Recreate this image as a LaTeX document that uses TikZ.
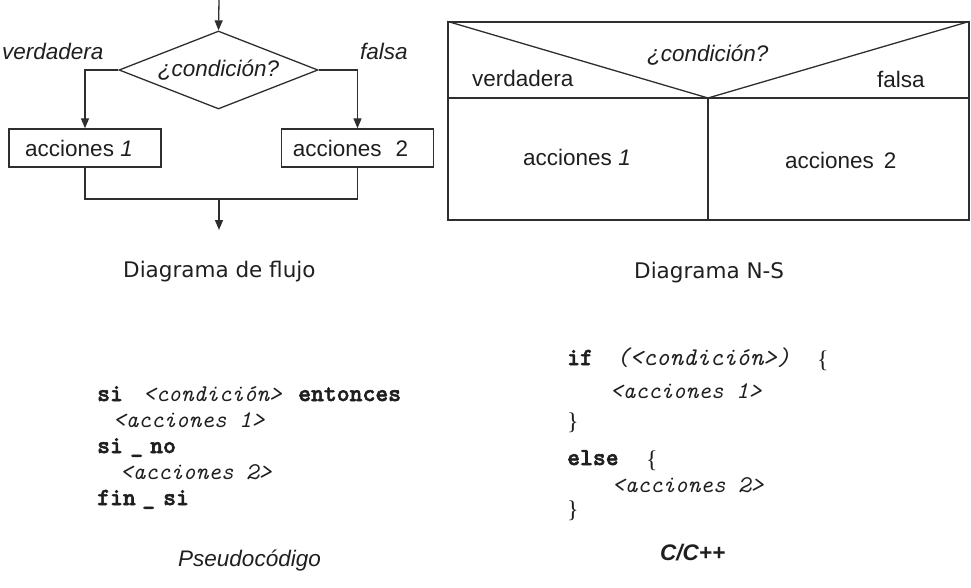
\documentclass[tikz,border=0pt]{standalone}
\usepackage{fontspec}
\setmainfont{Liberation Sans}
\newfontfamily\capfont{DejaVu Sans}
\newfontfamily\bracefont{Liberation Serif}
\newfontfamily\kwfont{lmmonolt10-bold.otf}[FakeBold=2.2]
\usetikzlibrary{shapes.geometric,arrows.meta}
\begin{document}
\begin{tikzpicture}[x=1pt,y=-1pt,
  ln/.style={draw=black!82, line width=1.3pt},
  arr/.style={ln, -{Triangle[length=10pt,width=8pt]}},
  txt/.style={inner sep=0pt, anchor=base west, text=black!88},
  sans/.style={font=\fontsize{22.5}{27}\selectfont},
  sansit/.style={font=\itshape\fontsize{22.5}{27}\selectfont},
  captxt/.style={font=\capfont\fontsize{21.5}{26}\selectfont},
  kw/.style={font=\kwfont\bfseries\fontsize{24.5}{26}\selectfont},
  ph/.style={font=\ttfamily\itshape\fontsize{24}{26}\selectfont},
  phbig/.style={font=\ttfamily\itshape\fontsize{25.5}{26}\selectfont},
  br/.style={font=\bracefont\fontsize{24}{26}\selectfont},
  fbox/.style={ln, inner sep=0pt, minimum width=152pt, minimum height=38pt, sans, text=black!88},
]
\useasboundingbox (0,0) rectangle (971,588);

% ---------- Flowchart ----------
\coordinate (top) at (219,0);
\node[ln, diamond, aspect=2.55, inner sep=0pt, minimum width=199pt, minimum height=78pt,
      sansit, text=black!88] (d) at (218.5,70) {¿condición?};
\node[fbox] (b1) at (85,148) {\hspace*{-12pt}acciones \textit{1}};
\node[fbox] (b2) at (357.5,148) {\hspace*{-14pt}acciones\hspace{14pt}2};
\coordinate (join) at (219,199);
\coordinate (bot) at (219,230);

\draw[arr] (top) -- (d.north);
\draw[arr] (d.west) -| (b1.north);
\draw[arr] (d.east) -| (b2.north);
\draw[ln] (b1.south) |- (join) -| (b2.south);
\draw[arr] (join) -- (bot);

\node[txt, sansit] (lv) at (2,60) {verdadera};
\node[txt, sansit] (lf) at (360,60) {falsa};
\node[txt, captxt] (c1) at (123,277) {Diagrama de flujo};

% ---------- N-S diagram ----------
\node[ln, inner sep=0pt, minimum width=521pt, minimum height=198pt] (ns) at (708.5,121) {};
\coordinate (v) at (708,98);
\draw[ln] (ns.north west) -- (v) -- (ns.north east);
\draw[ln] (ns.west |- v) -- (ns.east |- v);
\draw[ln] (v) -- (v |- ns.south);

\node[txt, sansit] (nc) at (647,62) {¿condición?};
\node[txt, sans] (nv) at (472,87) {verdadera};
\node[txt, sans] (nf) at (877,88) {falsa};
\node[txt, sans] (na1) at (523,166) {acciones \textit{1}};
\node[txt, sans] (na2) at (785,169) {acciones\hspace{10pt}2};
\node[txt, captxt] (c2) at (634,278) {Diagrama N-S};

% ---------- Pseudocode ----------
\node[txt, kw] (p1a) at (97,401) {si};
\node[txt, ph] (p1b) at (143,401) {<condición>};
\node[txt, kw] (p1c) at (298,401) {entonces};
\node[txt, ph] (p2) at (113,427) {<acciones 1>};
\node[txt, kw] (p3a) at (97,453) {si};
\node[txt, kw] (p3b) at (130,453) {\_};
\node[txt, kw] (p3c) at (150,453) {no};
\node[txt, ph] (p4) at (120,479) {<acciones 2>};
\node[txt, kw] (p5a) at (97,505) {fin};
\node[txt, kw] (p5b) at (142,505) {\_};
\node[txt, kw] (p5c) at (163,505) {si};
\node[txt, sansit] (pc) at (178,566) {Pseudocódigo};

% ---------- C/C++ ----------
\node[txt, kw] (k1) at (567,365) {if};
\node[txt, phbig] (k1b) at (616,365) {(<condición>)};
\node[txt, br] (k1c) at (817,367) {\{};
\node[txt, ph] (k2) at (610,398) {<acciones 1>};
\node[txt, br] (k3) at (567,429) {\}};
\node[txt, kw] (k4) at (567,465) {else};
\node[txt, br] (k4b) at (646,467) {\{};
\node[txt, ph] (k5) at (612,492) {<acciones 2>};
\node[txt, br] (k6) at (567,517) {\}};
\node[txt, font=\bfseries\itshape\fontsize{22.5}{27}\selectfont] (cc) at (660,560) {C/C++};
\end{tikzpicture}
\end{document}
